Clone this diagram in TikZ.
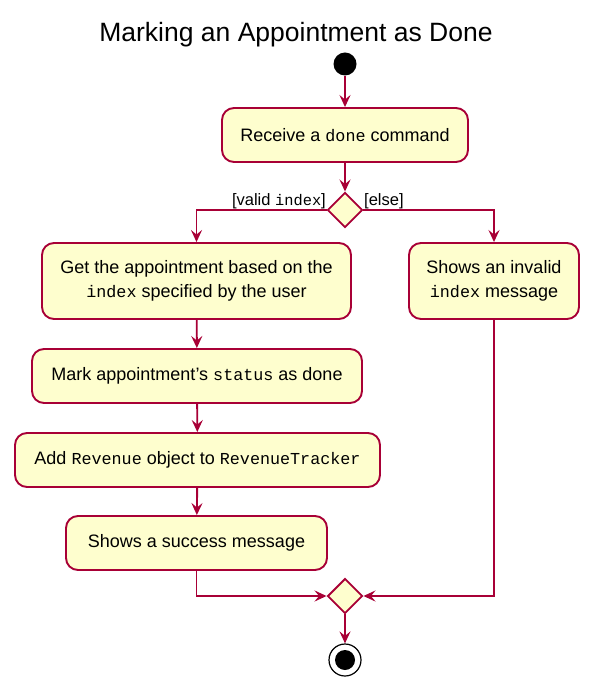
\documentclass[tikz,border=0pt]{standalone}
\usepackage{fontspec}
\setmainfont{Liberation Sans}
\setmonofont{Liberation Mono}[Scale=0.93]
\usetikzlibrary{arrows.meta,shapes.geometric}
\definecolor{umlfill}{HTML}{FEFECE}
\definecolor{umlline}{HTML}{A80036}
\begin{document}
\begin{tikzpicture}[x=1pt,y=-1pt,
    action/.style={draw=umlline, fill=umlfill, line width=1.9pt, rounded corners=12pt,
      minimum height=54pt, inner sep=0pt, align=center, font=\fontsize{18}{24}\selectfont},
    branch/.style={diamond, draw=umlline, fill=umlfill, line width=1.9pt,
      minimum width=35pt, minimum height=35pt, inner sep=0pt},
    flow/.style={draw=umlline, line width=1.9pt, -{Stealth[length=12pt,width=11pt,inset=4.5pt]}},
    guard/.style={font=\fontsize{16.5}{18}\selectfont, inner sep=0pt}]

    \useasboundingbox (0,0) rectangle (594,692);

    \node[font=\fontsize{26.5}{30}\selectfont] (title) at (296,35) {Marking an Appointment as Done};

    \node[circle, fill=black, minimum size=23pt, inner sep=0pt] (start) at (345,64) {};
    \node[action, minimum width=246pt] (receive) at (345,135) {Receive a \texttt{done} command};
    \node[branch] (split) at (345,210) {};

    \node[action, minimum width=309pt, minimum height=76pt] (get) at (196.5,281)
        {Get the appointment based on the\\\texttt{index} specified by the user};
    \node[action, minimum width=170pt, minimum height=76pt] (invalid) at (494,281)
        {Shows an invalid\\\texttt{index} message};
    \node[action, minimum width=330pt] (mark) at (197,376) {Mark appointment's \texttt{status} as done};
    \node[action, minimum width=365pt] (add) at (197.5,460) {Add \texttt{Revenue} object to \texttt{RevenueTracker}};
    \node[action, minimum width=261pt] (success) at (196.5,543) {Shows a success message};

    \node[branch] (merge) at (345,596) {};
    \node[circle, draw=black, line width=1.2pt, fill=white, minimum size=32pt, inner sep=0pt,
      path picture={\fill[black] (path picture bounding box.center) circle (10pt);}] (stop) at (345,660) {};

    % guards
    \node[guard, anchor=base east] (validlbl) at (326,206) {[valid \texttt{index}]};
    \node[guard, anchor=base west] (elselbl) at (364,206) {[else]};

    \draw[flow] (start) -- (receive);
    \draw[flow] (receive) -- (split);
    \draw[flow] (split.west) -| (get.north);
    \draw[flow] (split.east) -| (invalid.north);
    \draw[flow] (get) -- (mark);
    \draw[flow] (mark) -- (add);
    \draw[flow] (add) -- (success);
    \draw[flow] (success.south) |- (merge.west);
    \draw[flow] (invalid.south) |- (merge.east);
    \draw[flow] (merge) -- (stop);

\end{tikzpicture}
\end{document}
